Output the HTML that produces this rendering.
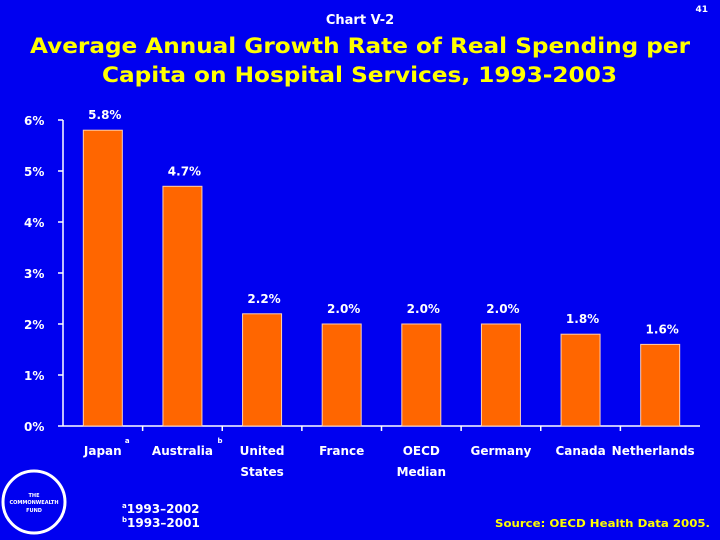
<!DOCTYPE html>
<html><head><meta charset="utf-8"><style>
body{margin:0;background:#0000f0;}
svg{display:block;font-family:"DejaVu Sans","Liberation Sans",sans-serif;font-weight:bold;}
</style></head><body>
<svg width="720" height="540">
<rect width="720" height="540" fill="#0000f0"/>
<text x="360" y="24" font-size="13" fill="#fff" text-anchor="middle">Chart V-2</text>
<text x="708" y="12" font-size="9" fill="#fff" text-anchor="end">41</text>
<text x="30" y="53" font-size="21" fill="#ffff00" textLength="660" lengthAdjust="spacingAndGlyphs">Average Annual Growth Rate of Real Spending per</text>
<text x="102" y="82" font-size="21" fill="#ffff00" textLength="515" lengthAdjust="spacingAndGlyphs">Capita on Hospital Services, 1993-2003</text>
<g id="plot"></g>
<g>
<circle cx="34" cy="502" r="31" fill="none" stroke="#fff" stroke-width="3"/>
<text x="34" y="497" font-size="5" fill="#fff" text-anchor="middle">THE</text>
<text x="34" y="504" font-size="5" fill="#fff" text-anchor="middle">COMMONWEALTH</text>
<text x="34" y="512" font-size="5" fill="#fff" text-anchor="middle">FUND</text>
</g>
<text x="122" y="513" font-size="12" fill="#fff"><tspan font-size="7" dy="-5">a</tspan><tspan dy="5">1993–2002</tspan></text>
<text x="122" y="527" font-size="12" fill="#fff"><tspan font-size="7" dy="-5">b</tspan><tspan dy="5">1993–2001</tspan></text>
<text x="710" y="527" font-size="11" fill="#ffff00" text-anchor="end" textLength="215" lengthAdjust="spacingAndGlyphs">Source: OECD Health Data 2005.</text>
</svg>
<script>
const categories=[["Japan"],["Australia"],["United","States"],["France"],["OECD","Median"],["Germany"],["Canada"],["Netherlands"]];
const values=[5.8,4.7,2.2,2.0,2.0,2.0,1.8,1.6];
const valueLabels=["5.8%","4.7%","2.2%","2.0%","2.0%","2.0%","1.8%","1.6%"];
const yTicks=[0,1,2,3,4,5,6];
const yTickLabels=["0%","1%","2%","3%","4%","5%","6%"];
const sups=["a","b","","","","","",""];
const NS="http://www.w3.org/2000/svg";
const g=document.getElementById('plot');
const x0=63,x1=700,y0=426,ppu=51;
const slot=(x1-x0)/categories.length;
const y=v=>y0-v*ppu;
const xc=i=>x0+slot*(i+0.5);
function mk(t,a){const e=document.createElementNS(NS,t);for(const k in a)e.setAttribute(k,a[k]);g.appendChild(e);return e;}
let e=mk('line',{x1:x0,y1:y(6),x2:x0,y2:y0,stroke:'#fff','stroke-width':1.5});


e=mk('line',{x1:x0,y1:y0,x2:x1,y2:y0,stroke:'#fff','stroke-width':1.5});


yTicks.forEach((v,i)=>{
 let t=mk('line',{x1:x0-5,y1:y(v),x2:x0,y2:y(v),stroke:'#fff','stroke-width':1.5});
 
 
 let l=mk('text',{x:24,y:y(v)+5,'font-size':12,fill:'#fff'});
 l.textContent=yTickLabels[i];
 
 
});
categories.forEach((c,i)=>{
 if(i>0){let t=mk('line',{x1:x0+slot*i,y1:y0,x2:x0+slot*i,y2:y0+5,stroke:'#fff','stroke-width':1.5});
 
 }
 let b=mk('rect',{x:xc(i)-19.5,y:y(values[i]),width:39,height:values[i]*ppu,fill:'#ff6600',stroke:'#ffd0b0','stroke-width':1});
 
 
 let v=mk('text',{x:xc(i)+2,y:y(values[i])-11,'font-size':12,fill:'#fff','text-anchor':'middle'});
 v.textContent=valueLabels[i];
 
 
 c.forEach((w,j)=>{
  let l=mk('text',{x:xc(i)-(i==7?7:0),y:455+j*21,'font-size':12,fill:'#fff','text-anchor':'middle'});
  l.textContent=w;
  
  
 });
 if(sups[i]){let s=mk('text',{x:xc(i)+(i==0?22:35),y:443,'font-size':7,fill:'#fff'});
 s.textContent=sups[i];
 
 }
});
</script>
</body></html>
